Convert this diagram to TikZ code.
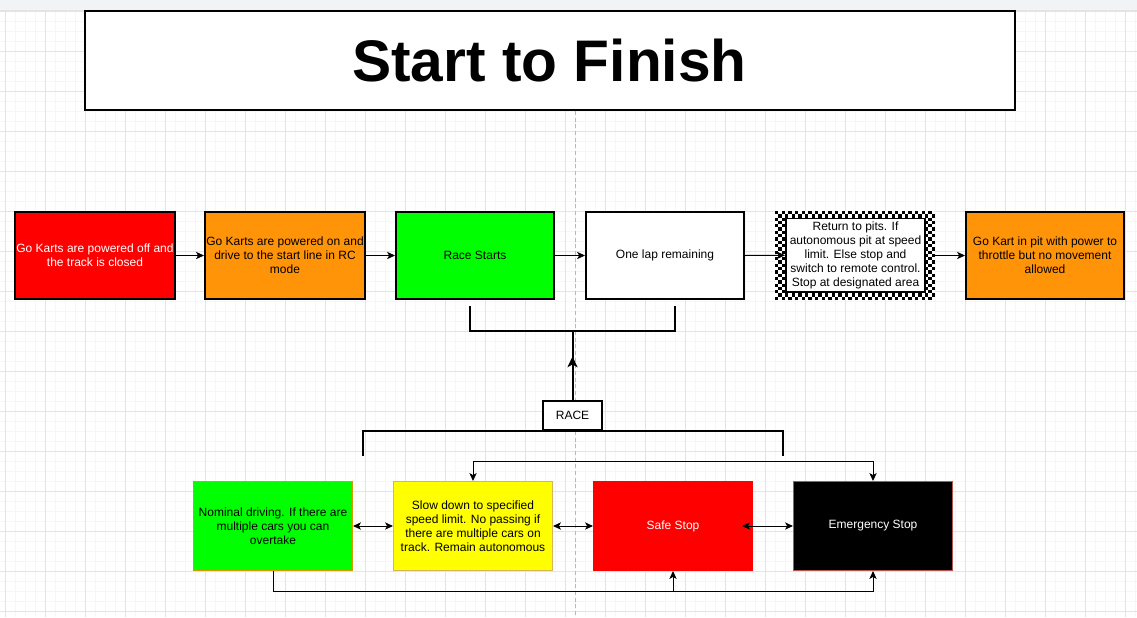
\documentclass[tikz,border=0pt]{standalone}
\usepackage{fontspec}
\setmainfont{Liberation Sans}
\usetikzlibrary{arrows.meta}
\definecolor{cred}{RGB}{255,0,0}
\definecolor{corange}{RGB}{255,148,8}
\definecolor{cgreen}{RGB}{0,255,0}
\definecolor{cyellow}{RGB}{255,255,0}
\definecolor{gminor}{RGB}{246,246,246}
\definecolor{gmajor}{RGB}{228,228,228}
\definecolor{strokeor}{RGB}{215,155,0}
\definecolor{strokeye}{RGB}{214,182,86}
\definecolor{strokere}{RGB}{184,84,80}
\definecolor{topband}{RGB}{242,243,245}
\tikzset{
  txt/.style={font=\fontsize{9}{10.6}\selectfont, align=center},
  topbox/.style={txt, draw=black, line width=1.5pt, minimum width=118.5pt, minimum height=65.25pt, inner sep=1pt},
  botbox/.style={txt, line width=0.75pt, minimum width=119.25pt, minimum height=66.75pt, inner sep=1pt},
  arr/.style={line width=0.75pt, -{Stealth[length=6pt,width=5.5pt,inset=1.6pt]}},
  darr/.style={line width=0.75pt, {Stealth[length=6pt,width=5.5pt,inset=1.6pt]}-{Stealth[length=6pt,width=5.5pt,inset=1.6pt]}},
  brk/.style={line width=1.5pt},
  minorgrid/.style={draw=gminor, line width=0.75pt},
  majorgrid/.style={draw=gmajor, line width=0.75pt}
}
\begin{document}
\begin{tikzpicture}[x=0.75pt,y=-0.75pt]
\useasboundingbox (0,0) rectangle (1137,617);
% background
\fill[white] (0,0) rectangle (1137,617);
\foreach \x in {5,15,...,1135} \draw[minorgrid] (\x,11) -- (\x,617);
\foreach \y in {21.5,31.5,...,611.5} \draw[minorgrid] (0,\y) -- (1137,\y);
\foreach \x in {5,45,...,1125} \draw[majorgrid] (\x,11) -- (\x,617);
\foreach \y in {11.5,51.5,...,611.5} \draw[majorgrid] (0,\y) -- (1137,\y);
\fill[topband] (0,0) rectangle (1137,10.5);
\draw[gmajor, line width=0.75pt] (0,10.5) -- (1137,10.5);
\draw[gray!55, line width=0.6pt, dash pattern=on 3pt off 2pt] (575.5,11) -- (575.5,617);

% title
\node[draw=black, line width=0.9pt, fill=white, minimum width=697.5pt, minimum height=74.25pt, inner sep=0pt] (title) at (550,60.5) {};
\node[font=\fontsize{44}{50}\selectfont\bfseries] (ttext) at (549.5,61) {Start to Finish};

% top row
\node[topbox, fill=cred, text=white] (a1) at (95,255.5) {Go Karts are powered off and\\the track is closed};
\node[topbox, fill=corange] (a2) at (285,255.5) {Go Karts are powered on and\\drive to the start line in RC\\mode};
\node[topbox, fill=cgreen] (a3) at (475,255.5) {Race Starts};
\node[topbox, fill=white] (a4) at (665,255.5) {One lap remaining};
\node[minimum width=120pt, minimum height=66.75pt, inner sep=0pt] (a5out) at (855,255.5) {};
\begin{scope}
\clip (775,211) rectangle (935,300);
\fill[white] (775,211) rectangle (935,300);
\foreach \i in {0,...,47}{\foreach \j in {0,...,26}{
  \pgfmathtruncatemacro\kk{mod(\i+\j,2)}
  \ifnum\kk=0 \fill[black] (775+\i*3.3334,211+\j*3.2963) rectangle ++(3.3334,3.2963);\fi
}}
\end{scope}
\node[txt, draw=black, line width=1.2pt, fill=white, minimum width=104.6pt, minimum height=55.1pt, inner sep=0pt] (a5) at (855.5,255.3) {Return to pits. If\\autonomous pit at speed\\limit. Else stop and\\switch to remote control.\\Stop at designated area};
\node[topbox, fill=corange] (a6) at (1045,255.5) {Go Kart in pit with power to\\throttle but no movement\\allowed};

\draw[arr] (a1.east) -- (a2.west);
\draw[arr] (a2.east) -- (a3.west);
\draw[arr] (a3.east) -- (a4.west);
\draw[arr] (a4.east) -- (a5.west);
\draw[arr] (a5out.east) -- (a6.west);

% upper bracket
\coordinate (b1l) at (470,306);
\coordinate (b1r) at (675,306);
\coordinate (bm) at (572.5,331);
\draw[brk] (b1l) |- (bm) -| (b1r);

% RACE
\node[txt, draw=black, line width=1.5pt, fill=white, minimum width=44.25pt, minimum height=21.5pt, inner sep=0pt] (race) at (572.5,415.5) {RACE};
\coordinate (tip) at (572.5,356.5);
\draw[line width=1.5pt, -{Stealth[length=8pt,width=7.5pt,inset=2pt]}] (race.north) -- (tip);
\draw[line width=1.5pt] (572.5,360) -- (bm);

% lower bracket
\coordinate (b2l) at (362.5,456);
\coordinate (b2r) at (782.5,456);
\draw[brk] (b2l) |- (race.south) -| (b2r);

% bottom row
\node[botbox, fill=cgreen, draw=strokeor] (g) at (273,526) {Nominal driving. If there are\\multiple cars you can\\overtake};
\node[botbox, fill=cyellow, draw=strokeye] (yl) at (473,526) {Slow down to specified\\speed limit. No passing if\\there are multiple cars on\\track. Remain autonomous};
\node[botbox, fill=cred, draw=cred, text=white] (rs) at (673,526) {Safe Stop};
\node[botbox, fill=black, draw=strokere, text=white] (es) at (873,526) {Emergency Stop};

\draw[darr] (g.east) -- (yl.west);
\draw[darr] (yl.east) -- (rs.west);
\coordinate (rsin) at (742,526);
\draw[darr] (rsin) -- (es.west);

\draw[darr] (yl.north) -- ++(0,-19.5) -| (es.north);
\coordinate (bl) at (273,591);
\coordinate (bj) at (673,591);
\draw[arr] (g.south) -- (bl) -| (es.south);
\draw[arr] (bj) -- (rs.south);
\end{tikzpicture}
\end{document}
